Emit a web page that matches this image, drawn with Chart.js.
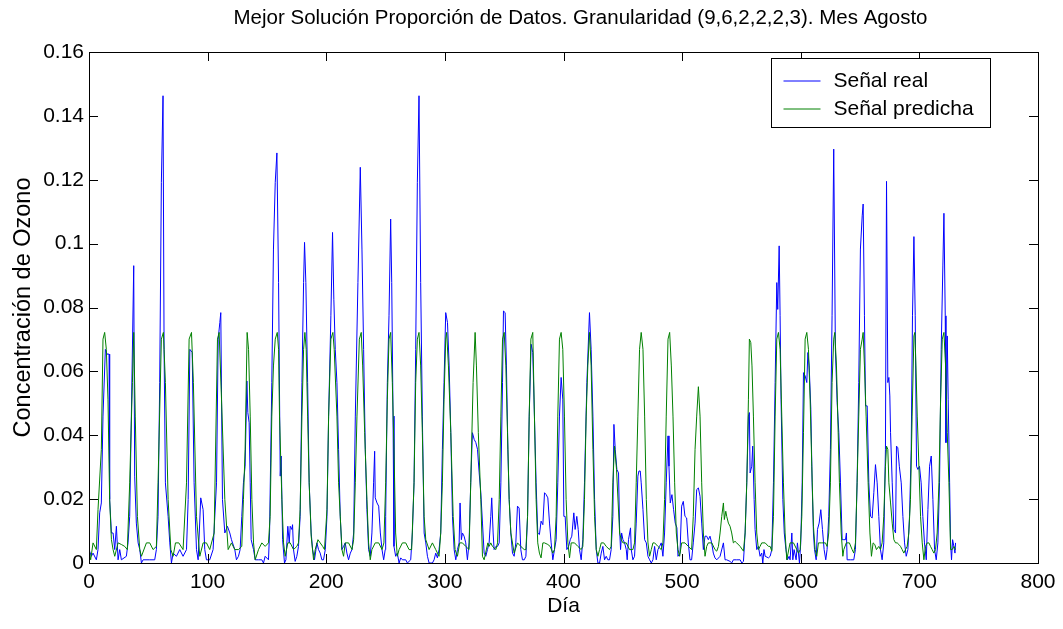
<!DOCTYPE html>
<html>
<head>
<meta charset="utf-8">
<title>Concentración de Ozono - Agosto</title>
<script src="https://cdn.jsdelivr.net/npm/chart.js@4.4.1/dist/chart.umd.min.js"></script>
<style>
  html, body { margin: 0; padding: 0; background: #fff; }
  #wrap { width: 1063px; height: 629px; }
</style>
</head>
<body>
<div id="wrap"><canvas id="ozono" width="1063" height="629"></canvas></div>
<script>
// --- DATOS: [hora, concentración] ---
const senalReal = [
  [0,0.0042],[2,0.0021],[3.4,0.0031],[6.2,0.0010],[7.6,0.0042],[9,0.0157],[10.4,0.0188],[11.8,0.0460],
  [13.8,0.0669],[15.2,0.0654],[16.9,0.0654],[17.4,0.0199],[18.9,0.0094],[20.3,0.0094],[21.7,0.0042],[23.1,0.0115],
  [24.5,0.0010],[25.9,0.0042],[27.3,0.0010],[31.5,0.0021],[32.9,0.0063],[34.3,0.0146],[35.7,0.0460],[37.7,0.0931],
  [38.5,0.0272],[39.9,0.0125],[41.4,0.0063],[42.8,0.0042],[44.2,0.0000],[45.6,0.0010],[51.2,0.0010],[55.4,0.0010],
  [56.8,0.0042],[58.2,0.0146],[59.6,0.0565],[61,0.1192],[62.4,0.1463],[63.3,0.0669],[64.4,0.0251],[66.7,0.0146],
  [68.1,0.0063],[69.5,0.0000],[70.9,0.0031],[73.7,0.0021],[76.5,0.0042],[79.3,0.0021],[82.2,0.0042],[83.6,0.0199],
  [85,0.0669],[87,0.0659],[88.6,0.0251],[90.6,0.0042],[92,0.0010],[94.2,0.0204],[96.2,0.0167],[97.6,0.0042],
  [99,0.0010],[101.8,0.0010],[104.6,0.0042],[107.5,0.0251],[108.9,0.0701],[110.3,0.0753],[111.1,0.0784],[112.5,0.0199],
  [114.5,0.0094],[116.7,0.0115],[118.7,0.0094],[120.1,0.0073],[122.9,0.0042],[124.3,0.0010],[126,0.0021],[127.4,0.0042],
  [128.8,0.0146],[130.2,0.0251],[131.6,0.0303],[133.1,0.0570],[133.9,0.0471],[135,0.0439],[135.9,0.0251],[136.7,0.0073],
  [138.7,0.0042],[140.1,0.0010],[142.9,0.0010],[145.7,0.0010],[147.1,0.0000],[148.5,0.0021],[151.3,0.0010],[152.2,0.0094],
  [154.1,0.0565],[155.5,0.0983],[157,0.1192],[158.4,0.1284],[159.8,0.0878],[161.2,0.0272],[162,0.0335],[163.2,0.0073],
  [164.8,0.0000],[166,0.0010],[167.6,0.0115],[168.8,0.0063],[169.6,0.0115],[171,0.0105],[171.6,0.0120],[172.4,0.0042],
  [173.8,0.0005],[175.2,0.0021],[176.6,0.0052],[178,0.0146],[179.5,0.0565],[180.9,0.0878],[181.7,0.1004],[182.8,0.0878],
  [184.3,0.0565],[185.6,0.0251],[187.3,0.0094],[188.5,0.0042],[190.1,0.0010],[192.1,0.0063],[193.5,0.0042],[194.9,0.0031],
  [196.3,0.0010],[197.7,0.0010],[199.2,0.0042],[200.6,0.0146],[202,0.0460],[203.9,0.0774],[205.3,0.1035],[206.4,0.0826],
  [207.6,0.0669],[209,0.0565],[210.4,0.0356],[211.8,0.0146],[213.2,0.0042],[214.6,0.0052],[216,0.0063],[217.4,0.0031],
  [218.8,0.0010],[220.3,0.0031],[221.7,0.0042],[223.1,0.0094],[224.5,0.0460],[226.7,0.0878],[228.7,0.1239],[230.1,0.0983],
  [231.5,0.0669],[232.9,0.0356],[234.3,0.0167],[235.7,0.0042],[237.1,0.0021],[238.5,0.0094],[239.9,0.0251],[240.8,0.0350],
  [241.3,0.0204],[242.8,0.0188],[244.2,0.0178],[245.6,0.0094],[247,0.0042],[248.4,0.0010],[249.7,0.0042],[250.1,0.0146],
  [251.5,0.0565],[252.9,0.0774],[254.3,0.1077],[255.2,0.0878],[256.3,0.0460],[257.1,0.0052],[258.5,0.0021],[259.9,0.0031],
  [261.4,0.0000],[262.8,0.0016],[264.2,0.0010],[267,0.0010],[268.4,0.0000],[271.2,0.0010],[272.6,0.0094],[274,0.0251],
  [275.4,0.0669],[276.8,0.1192],[278.2,0.1463],[279.6,0.0878],[281,0.0460],[282.5,0.0094],[283.9,0.0063],[285.3,0.0021],
  [286.7,0.0000],[289.5,0.0000],[290.9,0.0010],[292.3,0.0031],[293.7,0.0016],[295.1,0.0042],[296.5,0.0094],[297.9,0.0356],
  [299.3,0.0565],[300.7,0.0784],[302.2,0.0753],[303.6,0.0617],[305,0.0408],[306.4,0.0146],[307.8,0.0042],[309.2,0.0010],
  [310.6,0.0042],[312,0.0063],[312.8,0.0188],[313.9,0.0073],[314.8,0.0094],[316.2,0.0084],[317.6,0.0063],[319,0.0010],
  [320.4,0.0063],[321.8,0.0251],[323.2,0.0408],[324.7,0.0387],[326.1,0.0377],[327.5,0.0356],[328.9,0.0282],[330.3,0.0220],
  [331.7,0.0125],[333.1,0.0031],[334.5,0.0021],[335.9,0.0042],[337.3,0.0063],[338.7,0.0146],[339.5,0.0204],[340.7,0.0094],
  [341.5,0.0042],[343,0.0052],[344.4,0.0052],[345.8,0.0063],[347.2,0.0251],[348.6,0.0565],[349.4,0.0789],[350.8,0.0784],
  [351.9,0.0617],[353.1,0.0356],[354.2,0.0199],[355.6,0.0094],[357,0.0031],[358.4,0.0021],[359.8,0.0063],[361.2,0.0178],
  [362.6,0.0172],[364,0.0042],[365.4,0.0010],[366.9,0.0010],[368.3,0.0021],[369.7,0.0146],[371.1,0.0460],[372.7,0.0685],
  [374.1,0.0659],[375.5,0.0460],[376.9,0.0251],[378.3,0.0094],[379.7,0.0089],[381.1,0.0131],[382.6,0.0120],[384,0.0220],
  [385.4,0.0214],[386.8,0.0204],[388.2,0.0125],[389.6,0.0063],[391,0.0010],[392.4,0.0042],[393.8,0.0073],[395.2,0.0251],
  [396.6,0.0460],[398,0.0581],[399.4,0.0513],[400.3,0.0146],[401.4,0.0146],[402.8,0.0042],[404.3,0.0052],[405.7,0.0073],
  [407,0.0084],[408.7,0.0157],[409.8,0.0105],[411.2,0.0146],[412.4,0.0105],[413.5,0.0042],[414.9,0.0010],[416.3,0.0073],
  [417.7,0.0251],[419.7,0.0565],[421.9,0.0784],[423.3,0.0669],[424.8,0.0460],[426.2,0.0199],[427.6,0.0042],[429,0.0000],
  [430.4,0.0000],[431.8,0.0031],[433.2,0.0052],[434.6,0.0010],[436,0.0021],[437.4,0.0010],[438.8,0.0010],[440.2,0.0042],
  [441.6,0.0146],[442.5,0.0434],[443.6,0.0356],[445,0.0293],[446.4,0.0282],[447.3,0.0105],[448.1,0.0042],[449,0.0094],
  [450.1,0.0073],[451.5,0.0063],[452.9,0.0042],[453.7,0.0010],[454.8,0.0073],[456.5,0.0110],[457.1,0.0042],[458.5,0.0010],
  [459.9,0.0021],[461.3,0.0125],[462.7,0.0272],[463.6,0.0288],[464.7,0.0288],[465.5,0.0251],[467,0.0167],[468.4,0.0073],
  [469.8,0.0063],[471.2,0.0021],[472.6,0.0010],[474,0.0000],[475.4,0.0010],[476.8,0.0052],[478.2,0.0010],[479.6,0.0042],
  [481,0.0052],[482.4,0.0063],[483.8,0.0021],[485.2,0.0094],[486.6,0.0251],[488.1,0.0398],[488.9,0.0303],[490,0.0188],
  [491.4,0.0214],[492.8,0.0167],[494.2,0.0125],[495.6,0.0110],[496.5,0.0021],[498.2,0.0031],[499.6,0.0178],[501,0.0193],
  [502.4,0.0146],[503.8,0.0141],[505.2,0.0063],[506.6,0.0010],[508,0.0010],[509.4,0.0063],[510.9,0.0125],[512.3,0.0230],
  [513.7,0.0235],[515.1,0.0209],[516.5,0.0125],[517.9,0.0042],[519.3,0.0084],[520.7,0.0084],[522.1,0.0073],[523.5,0.0084],
  [524.9,0.0063],[526.3,0.0031],[527.7,0.0016],[529.2,0.0010],[532,0.0021],[534.8,0.0063],[536.2,0.0010],[537.6,0.0010],
  [540.4,0.0005],[541.8,0.0000],[543.2,0.0010],[546,0.0010],[548.9,0.0010],[550.3,0.0000],[551.7,0.0005],[553.1,0.0094],
  [554.5,0.0251],[555.9,0.0460],[556.7,0.0471],[557.3,0.0282],[558.7,0.0303],[559.5,0.0366],[560.7,0.0199],[561.5,0.0105],
  [562.9,0.0042],[564.3,0.0052],[565.7,0.0021],[567.1,0.0031],[568,0.0000],[569,0.0042],[570,0.0021],[572.8,0.0016],
  [574.2,0.0021],[575.6,0.0042],[577,0.0251],[578.4,0.0565],[579.8,0.0878],[580.6,0.0794],[581.8,0.0993],[582.6,0.0774],
  [583.4,0.0513],[584.9,0.0199],[586.1,0.0094],[587.5,0.0042],[588.8,0.0010],[590.2,0.0021],[591,0.0010],[592.5,0.0094],
  [593.3,0.0010],[594.4,0.0042],[596.1,0.0010],[597.2,0.0063],[598.9,0.0000],[600,0.0063],[601.2,0.0251],[602.3,0.0596],
  [603.7,0.0586],[605.1,0.0565],[606,0.0659],[607.1,0.0617],[608.5,0.0481],[609.6,0.0251],[610.7,0.0094],[611.6,0.0042],
  [613,0.0010],[614.1,0.0105],[615.5,0.0125],[616.9,0.0167],[618.3,0.0105],[619.7,0.0042],[621.1,0.0010],[622.2,0.0042],
  [623.6,0.0146],[625,0.0356],[626.4,0.0774],[627.8,0.1296],[629.2,0.0669],[630.7,0.0502],[632.1,0.0408],[633.5,0.0251],
  [634.9,0.0073],[636.3,0.0073],[637.7,0.0073],[638.5,0.0094],[639.1,0.0010],[641.9,0.0010],[644.7,0.0010],[646.1,0.0042],
  [647.5,0.0251],[648.9,0.0565],[650.3,0.0983],[651.8,0.1087],[652.6,0.1124],[653.7,0.0774],[654.6,0.0492],[656,0.0492],
  [657.4,0.0251],[658.8,0.0146],[660.2,0.0141],[661.6,0.0220],[663,0.0308],[664.4,0.0251],[665.8,0.0146],[667.2,0.0042],
  [668.6,0.0010],[670,0.0063],[671.4,0.0356],[672.3,0.1195],[673.4,0.0565],[674.3,0.0581],[675.1,0.0523],[675.7,0.0408],
  [677.1,0.0251],[678.5,0.0105],[679.9,0.0094],[680.7,0.0366],[681.8,0.0361],[683.1,0.0303],[684.7,0.0251],[686.1,0.0146],
  [687.5,0.0063],[688.9,0.0021],[690.3,0.0042],[691.7,0.0146],[693.1,0.0356],[694.2,0.0774],[695.4,0.1022],[696.5,0.0774],
  [697.6,0.0303],[698.7,0.0293],[700.1,0.0303],[701.5,0.0251],[702.9,0.0146],[704.3,0.0063],[705.8,0.0010],[707.2,0.0167],
  [708.6,0.0303],[710,0.0335],[711.4,0.0199],[712.8,0.0042],[714.2,0.0010],[715.6,0.0063],[717,0.0251],[718.4,0.0669],
  [719.8,0.0930],[720.7,0.1095],[721.8,0.0774],[722.4,0.0377],[723.5,0.0711],[724.3,0.0513],[725.5,0.0251],[726.3,0.0063],
  [727.1,0.0010],[728,0.0073],[729.1,0.0052],[730,0.0031],[730.5,0.0063]
];

const senalPredicha = [
  [0,0.0042],[1.4,0.0010],[3.4,0.0063],[6.2,0.0042],[7.6,0.0167],[10.4,0.0356],[11.8,0.0701],[13.2,0.0722],
  [14.6,0.0669],[16,0.0513],[17.4,0.0199],[18.9,0.0073],[20.3,0.0042],[21.7,0.0021],[24.5,0.0063],[27.3,0.0058],
  [30.1,0.0052],[32.3,0.0042],[34.3,0.0251],[36.6,0.0565],[37.7,0.0722],[39,0.0460],[40.8,0.0146],[42.8,0.0042],
  [44.2,0.0021],[48.4,0.0063],[51.2,0.0063],[54,0.0042],[56.8,0.0052],[58.2,0.0251],[61,0.0701],[62.7,0.0722],
  [64.4,0.0565],[66.7,0.0199],[69,0.0042],[70.9,0.0021],[72.9,0.0063],[75.7,0.0063],[79.3,0.0042],[82.2,0.0251],
  [84.4,0.0701],[86.4,0.0722],[88,0.0565],[90.6,0.0146],[93.4,0.0021],[96.2,0.0063],[99,0.0063],[101.8,0.0042],
  [105.5,0.0094],[108.3,0.0701],[109.7,0.0722],[111.7,0.0513],[114.5,0.0199],[117.3,0.0042],[120.1,0.0063],[122.9,0.0042],
  [126,0.0042],[128.8,0.0052],[130.2,0.0199],[131.6,0.0356],[133.3,0.0722],[134.5,0.0669],[135.9,0.0460],[137.3,0.0199],
  [138.7,0.0063],[140.1,0.0010],[142.9,0.0042],[145.7,0.0063],[148.5,0.0052],[151.3,0.0063],[152.7,0.0146],[154.1,0.0460],
  [155.5,0.0617],[157,0.0701],[158.7,0.0722],[159.8,0.0669],[160.6,0.0460],[162.6,0.0199],[164,0.0063],[165.4,0.0021],
  [167.6,0.0063],[169.6,0.0063],[172.4,0.0042],[175.2,0.0052],[176.6,0.0063],[178,0.0167],[179.5,0.0460],[180.9,0.0669],
  [182,0.0722],[183.1,0.0669],[184.3,0.0460],[185.6,0.0251],[187.3,0.0084],[189.3,0.0010],[190.7,0.0042],[193,0.0073],
  [194.9,0.0063],[197,0.0052],[198.5,0.0042],[200.6,0.0167],[202,0.0460],[203.9,0.0701],[205.6,0.0722],[206.7,0.0669],
  [209,0.0460],[210.4,0.0251],[213.2,0.0042],[214.6,0.0021],[216,0.0063],[218.8,0.0063],[221.7,0.0042],[223.1,0.0073],
  [224.5,0.0251],[225.9,0.0460],[227.9,0.0701],[229.5,0.0722],[230.7,0.0617],[232.4,0.0408],[234.3,0.0199],[235.7,0.0063],
  [237.1,0.0010],[238.5,0.0042],[241.3,0.0063],[244.2,0.0063],[247,0.0042],[248.6,0.0063],[250.1,0.0251],[251.5,0.0513],
  [252.9,0.0701],[254.3,0.0722],[255.7,0.0565],[257.1,0.0356],[258.5,0.0094],[259.9,0.0021],[261.4,0.0042],[264.2,0.0063],
  [267,0.0063],[269.8,0.0042],[272,0.0042],[274,0.0251],[275.4,0.0565],[276.8,0.0701],[278.2,0.0722],[279.6,0.0617],
  [281,0.0408],[282.5,0.0146],[283.9,0.0073],[286.7,0.0042],[289.5,0.0063],[292.3,0.0042],[295.1,0.0021],[296.5,0.0094],
  [297.9,0.0251],[299.3,0.0513],[300.7,0.0701],[301.5,0.0722],[303,0.0617],[305,0.0408],[307,0.0146],[308.6,0.0042],
  [310.6,0.0021],[312.5,0.0063],[314.8,0.0063],[317.6,0.0052],[320.4,0.0042],[321.8,0.0251],[323.8,0.0565],[325.5,0.0722],
  [326.6,0.0617],[328.2,0.0408],[330.3,0.0199],[331.7,0.0021],[333.1,0.0010],[336.2,0.0063],[337.3,0.0052],[338.7,0.0063],
  [340.1,0.0052],[343,0.0042],[344.4,0.0063],[345.8,0.0199],[347.2,0.0460],[348.6,0.0701],[350,0.0722],[351.4,0.0617],
  [352.8,0.0408],[354.2,0.0199],[355.6,0.0094],[358.4,0.0031],[361.2,0.0063],[364,0.0052],[366.9,0.0042],[368.3,0.0042],
  [369.7,0.0146],[371.1,0.0460],[372.5,0.0701],[374.1,0.0722],[375.5,0.0460],[376.9,0.0199],[378.3,0.0063],[379.7,0.0031],
  [381.1,0.0016],[382.6,0.0063],[384,0.0063],[386.8,0.0058],[388.7,0.0052],[391,0.0031],[392.4,0.0042],[393.8,0.0146],
  [395.2,0.0460],[396.6,0.0701],[398,0.0722],[399.4,0.0669],[400.8,0.0460],[402.2,0.0199],[403.7,0.0063],[405.1,0.0016],
  [406.5,0.0063],[409.3,0.0063],[412.1,0.0052],[414.9,0.0042],[416.3,0.0052],[417.7,0.0199],[419.1,0.0460],[420.5,0.0617],
  [421.9,0.0722],[423.3,0.0617],[424.8,0.0356],[426.2,0.0146],[427.6,0.0042],[429,0.0021],[430.4,0.0042],[431.8,0.0063],
  [433.9,0.0063],[436,0.0052],[438.8,0.0042],[440.2,0.0052],[441.6,0.0251],[443,0.0366],[444.7,0.0293],[447.3,0.0094],
  [448.7,0.0073],[450.1,0.0063],[452.9,0.0063],[455.7,0.0042],[458.5,0.0042],[459.9,0.0063],[461.3,0.0251],[462.7,0.0460],
  [464.1,0.0669],[465.5,0.0722],[467,0.0669],[468.4,0.0460],[469.8,0.0199],[471.2,0.0063],[472.6,0.0021],[474,0.0042],
  [475.4,0.0063],[476.8,0.0063],[479.6,0.0052],[482.4,0.0042],[483.8,0.0063],[485.2,0.0199],[486.6,0.0460],[488.1,0.0701],
  [489.5,0.0722],[490.9,0.0617],[492.3,0.0460],[493.7,0.0251],[495.1,0.0094],[496.5,0.0042],[497.9,0.0021],[499.6,0.0063],
  [502.4,0.0063],[505.2,0.0052],[508,0.0042],[509.4,0.0146],[510.9,0.0356],[512.3,0.0460],[513.7,0.0552],[515.1,0.0460],
  [516.5,0.0251],[517.9,0.0094],[519.3,0.0021],[520.7,0.0052],[522.1,0.0063],[525,0.0063],[527.7,0.0042],[529.2,0.0037],
  [530.6,0.0052],[532,0.0094],[533.4,0.0146],[534.8,0.0188],[535.6,0.0136],[536.8,0.0162],[537.6,0.0146],[539,0.0125],
  [540.4,0.0115],[541.8,0.0094],[543.2,0.0063],[544.6,0.0068],[546,0.0063],[548.9,0.0052],[551.7,0.0037],[553.1,0.0094],
  [554.5,0.0251],[555.9,0.0513],[556.7,0.0701],[557.9,0.0690],[558.9,0.0617],[560.1,0.0460],[561.5,0.0251],[562.9,0.0094],
  [564.3,0.0042],[565.7,0.0052],[567.1,0.0063],[570,0.0063],[572.8,0.0052],[574.2,0.0052],[575.6,0.0037],[577,0.0146],
  [578.4,0.0460],[579.8,0.0701],[581.2,0.0722],[582.6,0.0669],[584,0.0460],[585.4,0.0251],[586.8,0.0094],[588.2,0.0010],
  [591,0.0063],[593.9,0.0063],[596.7,0.0042],[598.1,0.0031],[599.5,0.0042],[600.9,0.0146],[602.3,0.0408],[603.7,0.0701],
  [605.1,0.0722],[606.5,0.0669],[607.9,0.0513],[609.3,0.0303],[610.7,0.0115],[612.1,0.0042],[613.5,0.0021],[614.9,0.0063],
  [617.7,0.0063],[620.8,0.0063],[622.2,0.0052],[623.6,0.0094],[625,0.0251],[626.4,0.0565],[627.8,0.0701],[628.7,0.0722],
  [630.1,0.0617],[631.2,0.0460],[632.6,0.0251],[634.1,0.0094],[635.5,0.0021],[636.3,0.0042],[638.4,0.0063],[641,0.0063],
  [643.3,0.0042],[644.7,0.0031],[646.1,0.0063],[647.5,0.0251],[648.9,0.0460],[650.3,0.0669],[651.8,0.0701],[652.6,0.0722],
  [653.7,0.0617],[655.1,0.0460],[656.8,0.0251],[658.3,0.0094],[659.6,0.0021],[661,0.0063],[662.4,0.0058],[663.8,0.0042],
  [665.8,0.0052],[667.2,0.0042],[668.6,0.0063],[670,0.0146],[671.4,0.0303],[672.3,0.0366],[673.4,0.0356],[674.3,0.0251],
  [675.7,0.0188],[677.1,0.0125],[678.5,0.0073],[679.9,0.0063],[681.3,0.0063],[682.7,0.0058],[684.1,0.0052],[685.5,0.0042],
  [686.9,0.0031],[688.3,0.0042],[689.7,0.0052],[691.1,0.0094],[692.5,0.0199],[693.9,0.0460],[695.4,0.0711],[696.2,0.0722],
  [697.1,0.0617],[698.2,0.0460],[699.6,0.0303],[701,0.0146],[702.4,0.0063],[703.8,0.0010],[705.2,0.0052],[706.6,0.0063],
  [708,0.0063],[709.4,0.0052],[710.8,0.0042],[712.2,0.0031],[713.6,0.0042],[715,0.0094],[716.5,0.0251],[717.9,0.0513],
  [719.3,0.0701],[720.7,0.0722],[722.1,0.0617],[723.5,0.0408],[724.9,0.0251],[726.3,0.0042],[727.7,0.0042],[729.1,0.0052],
  [730.5,0.0042]
];

const nombresSeries = ['Señal real', 'Señal predicha'];
const coloresSeries = ['#0000ff', '#008000'];

// Ticks de los ejes
const ticksX = [0, 100, 200, 300, 400, 500, 600, 700, 800];
const ticksY = [0, 0.02, 0.04, 0.06, 0.08, 0.1, 0.12, 0.14, 0.16];
const etiquetasY = ['0', '0.02', '0.04', '0.06', '0.08', '0.1', '0.12', '0.14', '0.16'];

const titulo = 'Mejor Solución Proporción de Datos. Granularidad (9,6,2,2,2,3). Mes Agosto';
const tituloX = 'Día';
const tituloY = 'Concentración de Ozono';

const FUENTE = '"Liberation Sans", Arial, Helvetica, sans-serif';

// Título sobre el área de gráfico (un poco desplazado a la derecha, como en MATLAB)
const tituloArriba = {
  id: 'tituloArriba',
  afterDraw(chart) {
    const { ctx, chartArea: a } = chart;
    ctx.save();
    ctx.font = '20.5px ' + FUENTE;
    ctx.fillStyle = '#000';
    ctx.textAlign = 'center';
    ctx.textBaseline = 'middle';
    ctx.fillText(titulo, (a.left + a.right) / 2 + 17, a.top - 34);
    ctx.restore();
  }
};

// Marco estilo MATLAB con ticks hacia dentro en los cuatro lados
const marcoEjes = {
  id: 'marcoEjes',
  afterDatasetsDraw(chart) {
    const { ctx, chartArea: a, scales } = chart;
    const largo = 9;
    ctx.save();
    ctx.strokeStyle = '#000';
    ctx.lineWidth = 1;
    ctx.beginPath();
    ticksX.forEach(v => {
      const px = Math.round(scales.x.getPixelForValue(v)) + 0.5;
      ctx.moveTo(px, a.bottom); ctx.lineTo(px, a.bottom - largo);
      ctx.moveTo(px, a.top); ctx.lineTo(px, a.top + largo);
    });
    ticksY.forEach(v => {
      const py = Math.round(scales.y.getPixelForValue(v)) + 0.5;
      ctx.moveTo(a.left, py); ctx.lineTo(a.left + largo, py);
      ctx.moveTo(a.right, py); ctx.lineTo(a.right - largo, py);
    });
    ctx.stroke();
    ctx.strokeRect(Math.round(a.left) + 0.5, Math.round(a.top) + 0.5,
                   Math.round(a.right - a.left), Math.round(a.bottom - a.top));
    ctx.restore();
  }
};

// Leyenda con recuadro en la esquina superior derecha
const leyendaCaja = {
  id: 'leyendaCaja',
  afterDraw(chart) {
    const { ctx, chartArea: a } = chart;
    const ancho = 219, alto = 69;
    const x0 = Math.round(a.right - 48 - ancho) + 0.5;
    const y0 = Math.round(a.top + 6) + 0.5;
    ctx.save();
    ctx.fillStyle = '#fff';
    ctx.fillRect(x0, y0, ancho, alto);
    ctx.strokeStyle = '#000';
    ctx.lineWidth = 1;
    ctx.strokeRect(x0, y0, ancho, alto);
    ctx.font = '21px ' + FUENTE;
    ctx.textBaseline = 'middle';
    chart.data.datasets.forEach((ds, i) => {
      const y = Math.round(y0 + 22 + i * 28);
      ctx.strokeStyle = ds.borderColor;
      ctx.beginPath();
      ctx.moveTo(x0 + 12, y);
      ctx.lineTo(x0 + 49, y);
      ctx.stroke();
      ctx.fillStyle = '#000';
      ctx.fillText(ds.label, x0 + 62, y);
    });
    ctx.restore();
  }
};

new Chart(document.getElementById('ozono'), {
  type: 'line',
  data: {
    datasets: [
      {
        label: nombresSeries[0],
        data: senalReal.map(p => ({ x: p[0], y: p[1] })),
        borderColor: coloresSeries[0],
        borderWidth: 1,
        pointRadius: 0,
        tension: 0,
        fill: false,
        order: 2
      },
      {
        label: nombresSeries[1],
        data: senalPredicha.map(p => ({ x: p[0], y: p[1] })),
        borderColor: coloresSeries[1],
        borderWidth: 1,
        pointRadius: 0,
        tension: 0,
        fill: false,
        order: 1 // la predicción se dibuja encima
      }
    ]
  },
  options: {
    responsive: false,
    devicePixelRatio: 1,
    animation: false,
    events: [],
    layout: { padding: { left: 0, right: 25, top: 52, bottom: 0 } },
    plugins: {
      legend: { display: false },
      tooltip: { enabled: false },
      title: { display: false }
    },
    scales: {
      x: {
        type: 'linear',
        min: 0,
        max: 800,
        afterBuildTicks: s => { s.ticks = ticksX.map(v => ({ value: v })); },
        afterFit: s => { s.height = 66; },
        grid: { display: false, drawTicks: false },
        border: { display: false },
        ticks: {
          color: '#000',
          padding: 7,
          maxRotation: 0,
          font: { family: FUENTE, size: 21 },
          callback: v => String(v)
        },
        title: {
          display: true,
          text: tituloX,
          color: '#000',
          font: { family: FUENTE, size: 21 },
          padding: { top: 0, bottom: 10 }
        }
      },
      y: {
        type: 'linear',
        min: 0,
        max: 0.16,
        afterBuildTicks: s => { s.ticks = ticksY.map(v => ({ value: v })); },
        afterFit: s => { s.width = 89; },
        grid: { display: false, drawTicks: false },
        border: { display: false },
        ticks: {
          color: '#000',
          padding: 5,
          font: { family: FUENTE, size: 21 },
          callback: (v, i) => etiquetasY[i]
        },
        title: {
          display: true,
          text: tituloY,
          color: '#000',
          font: { family: FUENTE, size: 23.5 },
          padding: { top: 9, bottom: 0 }
        }
      }
    }
  },
  plugins: [marcoEjes, leyendaCaja, tituloArriba]
});
</script>
</body>
</html>
